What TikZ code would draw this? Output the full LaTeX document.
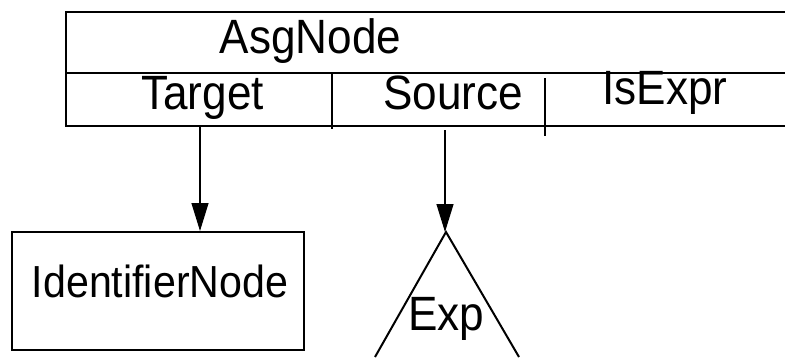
\documentclass[tikz,border=0pt]{standalone}
\usepackage{fontspec}
\setmainfont{Liberation Sans}
\usetikzlibrary{arrows.meta}

% slightly taller lettering
\newcommand{\tallword}[1]{\scalebox{0.98}[1.07]{#1}}

\tikzset{
  frame/.style={line width=2.1pt},
  field/.style={line width=1.8pt},
  label/.style={inner sep=0pt, anchor=base, font=\fontsize{45}{54}\selectfont},
  smalllabel/.style={inner sep=0pt, anchor=base, font=\fontsize{42}{50}\selectfont},
  link/.style={line width=1.2pt, -{Triangle[length=28pt,width=17pt]}},
  leafbox/.style={draw, line width=2pt, inner sep=0pt},
  treeside/.style={line width=2pt}
}

\begin{document}
\begin{tikzpicture}[x=1pt,y=-1pt]
  \useasboundingbox (0,0) rectangle (785,357);

  % AsgNode record (open to the right)
  \coordinate (rtop) at (785,12);
  \coordinate (ltop) at (66,12);
  \coordinate (lmid) at (66,73);
  \coordinate (rmid) at (785,73);
  \coordinate (lbot) at (66,126);
  \coordinate (rbot) at (785,126);
  \draw[frame] (rtop) -- (ltop) -- (lbot) -- (rbot);
  \draw[frame] (lmid) -- (rmid);

  % field separators
  \coordinate (sepAtop) at (332,74);
  \coordinate (sepAbot) at (332,129);
  \coordinate (sepBtop) at (545,78);
  \coordinate (sepBbot) at (545,136);
  \draw[field] (sepAtop) -- (sepAbot);
  \draw[field] (sepBtop) -- (sepBbot);

  % labels of the record
  \node[label] (asg) at (310.5,53) {\tallword{AsgNode}};
  \node[label] (target) at (202.5,109) {\tallword{Target}};
  \node[label] (source) at (453,109) {\tallword{Source}};
  \node[label] (isexpr) at (665,104) {\tallword{IsExpr}};

  % target child: a plain box
  \node[leafbox, minimum width=292pt, minimum height=118pt] (idn) at (158,291) {};
  \node[smalllabel] (idntext) at (160,297) {\tallword{IdentifierNode}};

  % source child: an open triangle (subtree)
  \coordinate (apex) at (446,232);
  \coordinate (treeL) at (375,357);
  \coordinate (treeR) at (519,357);
  \draw[treeside] (treeL) -- (apex) -- (treeR);
  \node[label] (exp) at (446.5,330) {\tallword{Exp}};

  % pointers from the fields to the children
  \coordinate (tgtfoot) at (200,127);
  \coordinate (srcfoot) at (445,130);
  \draw[link] (tgtfoot) -- (idn.north -| tgtfoot);
  \draw[link] (srcfoot) -- (apex -| srcfoot);
\end{tikzpicture}
\end{document}
